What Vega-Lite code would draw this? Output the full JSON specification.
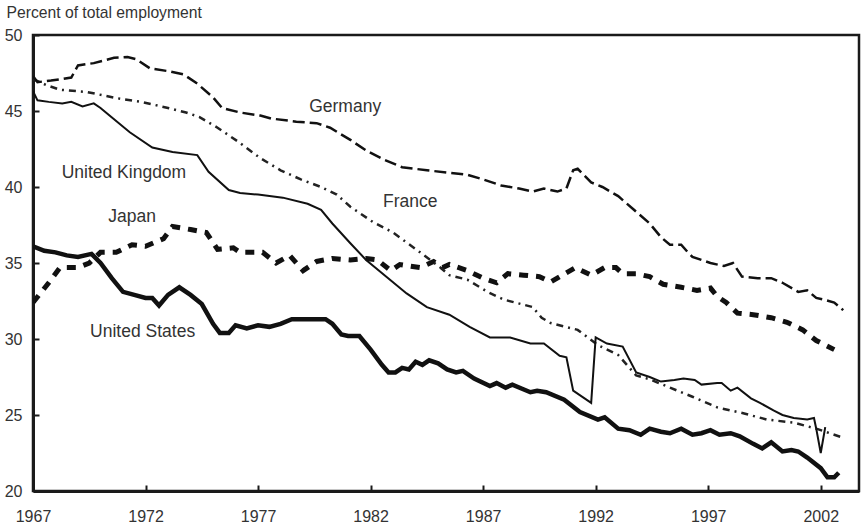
{
  "$schema": "https://vega.github.io/schema/vega-lite/v6.json",
  "autosize": {"type": "none"},
  "width": 826,
  "height": 456,
  "padding": {"left": 33, "top": 35, "right": 3, "bottom": 36},
  "background": "white",
  "config": {
    "view": {"stroke": "#1a1a1a", "strokeWidth": 2.5},
    "font": "Liberation Sans",
    "axis": {"grid": false, "domainColor": "#1a1a1a", "domainWidth": 3, "tickColor": "#1a1a1a", "tickWidth": 2, "labelColor": "#333", "labelFont": "Liberation Sans", "labelFontSize": 16}
  },
  "datasets": {
    "series": [
      {"country": "United States", "year": 1967.0, "value": 36.1},
      {"country": "United States", "year": 1967.5, "value": 35.8},
      {"country": "United States", "year": 1968.0, "value": 35.7},
      {"country": "United States", "year": 1968.5, "value": 35.5},
      {"country": "United States", "year": 1969.0, "value": 35.4},
      {"country": "United States", "year": 1969.6, "value": 35.6},
      {"country": "United States", "year": 1970.0, "value": 35.0},
      {"country": "United States", "year": 1970.5, "value": 34.0},
      {"country": "United States", "year": 1971.0, "value": 33.1},
      {"country": "United States", "year": 1971.5, "value": 32.9},
      {"country": "United States", "year": 1972.0, "value": 32.7},
      {"country": "United States", "year": 1972.3, "value": 32.7},
      {"country": "United States", "year": 1972.6, "value": 32.2},
      {"country": "United States", "year": 1973.0, "value": 32.9},
      {"country": "United States", "year": 1973.5, "value": 33.4},
      {"country": "United States", "year": 1974.0, "value": 32.9},
      {"country": "United States", "year": 1974.5, "value": 32.3},
      {"country": "United States", "year": 1975.0, "value": 31.0},
      {"country": "United States", "year": 1975.3, "value": 30.4},
      {"country": "United States", "year": 1975.7, "value": 30.4},
      {"country": "United States", "year": 1976.0, "value": 30.9},
      {"country": "United States", "year": 1976.5, "value": 30.7},
      {"country": "United States", "year": 1977.0, "value": 30.9},
      {"country": "United States", "year": 1977.5, "value": 30.8},
      {"country": "United States", "year": 1978.0, "value": 31.0},
      {"country": "United States", "year": 1978.5, "value": 31.3},
      {"country": "United States", "year": 1979.0, "value": 31.3},
      {"country": "United States", "year": 1980.0, "value": 31.3},
      {"country": "United States", "year": 1980.3, "value": 31.0},
      {"country": "United States", "year": 1980.7, "value": 30.3},
      {"country": "United States", "year": 1981.0, "value": 30.2},
      {"country": "United States", "year": 1981.5, "value": 30.2},
      {"country": "United States", "year": 1982.0, "value": 29.3},
      {"country": "United States", "year": 1982.5, "value": 28.3},
      {"country": "United States", "year": 1982.8, "value": 27.8},
      {"country": "United States", "year": 1983.1, "value": 27.8},
      {"country": "United States", "year": 1983.4, "value": 28.1},
      {"country": "United States", "year": 1983.7, "value": 28.0},
      {"country": "United States", "year": 1984.0, "value": 28.5},
      {"country": "United States", "year": 1984.3, "value": 28.3},
      {"country": "United States", "year": 1984.6, "value": 28.6},
      {"country": "United States", "year": 1985.0, "value": 28.4},
      {"country": "United States", "year": 1985.4, "value": 28.0},
      {"country": "United States", "year": 1985.8, "value": 27.8},
      {"country": "United States", "year": 1986.1, "value": 27.9},
      {"country": "United States", "year": 1986.6, "value": 27.4},
      {"country": "United States", "year": 1987.3, "value": 26.9},
      {"country": "United States", "year": 1987.6, "value": 27.1},
      {"country": "United States", "year": 1988.0, "value": 26.8},
      {"country": "United States", "year": 1988.3, "value": 27.0},
      {"country": "United States", "year": 1989.1, "value": 26.5},
      {"country": "United States", "year": 1989.4, "value": 26.6},
      {"country": "United States", "year": 1989.8, "value": 26.5},
      {"country": "United States", "year": 1990.6, "value": 26.0},
      {"country": "United States", "year": 1991.3, "value": 25.2},
      {"country": "United States", "year": 1992.1, "value": 24.7},
      {"country": "United States", "year": 1992.4, "value": 24.85},
      {"country": "United States", "year": 1993.0, "value": 24.1},
      {"country": "United States", "year": 1993.5, "value": 24.0},
      {"country": "United States", "year": 1994.0, "value": 23.7},
      {"country": "United States", "year": 1994.4, "value": 24.1},
      {"country": "United States", "year": 1994.9, "value": 23.9},
      {"country": "United States", "year": 1995.3, "value": 23.8},
      {"country": "United States", "year": 1995.8, "value": 24.1},
      {"country": "United States", "year": 1996.3, "value": 23.7},
      {"country": "United States", "year": 1996.7, "value": 23.8},
      {"country": "United States", "year": 1997.1, "value": 24.0},
      {"country": "United States", "year": 1997.5, "value": 23.7},
      {"country": "United States", "year": 1998.0, "value": 23.8},
      {"country": "United States", "year": 1998.4, "value": 23.6},
      {"country": "United States", "year": 1999.0, "value": 23.1},
      {"country": "United States", "year": 1999.4, "value": 22.8},
      {"country": "United States", "year": 1999.8, "value": 23.2},
      {"country": "United States", "year": 2000.3, "value": 22.6},
      {"country": "United States", "year": 2000.7, "value": 22.7},
      {"country": "United States", "year": 2001.0, "value": 22.6},
      {"country": "United States", "year": 2001.4, "value": 22.2},
      {"country": "United States", "year": 2002.0, "value": 21.5},
      {"country": "United States", "year": 2002.3, "value": 20.9},
      {"country": "United States", "year": 2002.6, "value": 20.9},
      {"country": "United States", "year": 2002.8, "value": 21.2},

      {"country": "United Kingdom", "year": 1967.0, "value": 46.3},
      {"country": "United Kingdom", "year": 1967.2, "value": 45.7},
      {"country": "United Kingdom", "year": 1967.7, "value": 45.6},
      {"country": "United Kingdom", "year": 1968.3, "value": 45.5},
      {"country": "United Kingdom", "year": 1968.7, "value": 45.6},
      {"country": "United Kingdom", "year": 1969.2, "value": 45.3},
      {"country": "United Kingdom", "year": 1969.7, "value": 45.5},
      {"country": "United Kingdom", "year": 1970.0, "value": 45.2},
      {"country": "United Kingdom", "year": 1970.4, "value": 44.7},
      {"country": "United Kingdom", "year": 1971.3, "value": 43.6},
      {"country": "United Kingdom", "year": 1972.3, "value": 42.6},
      {"country": "United Kingdom", "year": 1973.2, "value": 42.3},
      {"country": "United Kingdom", "year": 1974.3, "value": 42.1},
      {"country": "United Kingdom", "year": 1974.8, "value": 41.0},
      {"country": "United Kingdom", "year": 1975.7, "value": 39.8},
      {"country": "United Kingdom", "year": 1976.2, "value": 39.6},
      {"country": "United Kingdom", "year": 1977.0, "value": 39.5},
      {"country": "United Kingdom", "year": 1978.1, "value": 39.3},
      {"country": "United Kingdom", "year": 1979.2, "value": 38.9},
      {"country": "United Kingdom", "year": 1979.8, "value": 38.5},
      {"country": "United Kingdom", "year": 1980.3, "value": 37.6},
      {"country": "United Kingdom", "year": 1981.1, "value": 36.3},
      {"country": "United Kingdom", "year": 1981.8, "value": 35.2},
      {"country": "United Kingdom", "year": 1982.7, "value": 34.1},
      {"country": "United Kingdom", "year": 1983.6, "value": 33.0},
      {"country": "United Kingdom", "year": 1984.5, "value": 32.1},
      {"country": "United Kingdom", "year": 1985.5, "value": 31.6},
      {"country": "United Kingdom", "year": 1986.4, "value": 30.8},
      {"country": "United Kingdom", "year": 1987.3, "value": 30.1},
      {"country": "United Kingdom", "year": 1988.2, "value": 30.1},
      {"country": "United Kingdom", "year": 1989.1, "value": 29.7},
      {"country": "United Kingdom", "year": 1989.7, "value": 29.7},
      {"country": "United Kingdom", "year": 1990.4, "value": 28.9},
      {"country": "United Kingdom", "year": 1990.7, "value": 28.8},
      {"country": "United Kingdom", "year": 1991.0, "value": 26.6},
      {"country": "United Kingdom", "year": 1991.8, "value": 25.8},
      {"country": "United Kingdom", "year": 1992.0, "value": 30.1},
      {"country": "United Kingdom", "year": 1992.5, "value": 29.7},
      {"country": "United Kingdom", "year": 1993.2, "value": 29.5},
      {"country": "United Kingdom", "year": 1993.8, "value": 27.8},
      {"country": "United Kingdom", "year": 1994.4, "value": 27.5},
      {"country": "United Kingdom", "year": 1994.9, "value": 27.2},
      {"country": "United Kingdom", "year": 1995.5, "value": 27.3},
      {"country": "United Kingdom", "year": 1995.9, "value": 27.4},
      {"country": "United Kingdom", "year": 1996.4, "value": 27.3},
      {"country": "United Kingdom", "year": 1996.7, "value": 27.0},
      {"country": "United Kingdom", "year": 1997.4, "value": 27.1},
      {"country": "United Kingdom", "year": 1997.6, "value": 27.1},
      {"country": "United Kingdom", "year": 1998.0, "value": 26.6},
      {"country": "United Kingdom", "year": 1998.3, "value": 26.8},
      {"country": "United Kingdom", "year": 1998.9, "value": 26.1},
      {"country": "United Kingdom", "year": 1999.3, "value": 25.8},
      {"country": "United Kingdom", "year": 1999.9, "value": 25.3},
      {"country": "United Kingdom", "year": 2000.3, "value": 25.0},
      {"country": "United Kingdom", "year": 2000.8, "value": 24.8},
      {"country": "United Kingdom", "year": 2001.4, "value": 24.7},
      {"country": "United Kingdom", "year": 2001.7, "value": 24.8},
      {"country": "United Kingdom", "year": 2001.8, "value": 24.1},
      {"country": "United Kingdom", "year": 2002.0, "value": 22.5},
      {"country": "United Kingdom", "year": 2002.2, "value": 24.2},

      {"country": "Germany", "year": 1967.0, "value": 47.3},
      {"country": "Germany", "year": 1967.2, "value": 46.9},
      {"country": "Germany", "year": 1967.8, "value": 47.0},
      {"country": "Germany", "year": 1968.3, "value": 47.1},
      {"country": "Germany", "year": 1968.7, "value": 47.2},
      {"country": "Germany", "year": 1969.0, "value": 48.0},
      {"country": "Germany", "year": 1969.7, "value": 48.15},
      {"country": "Germany", "year": 1970.6, "value": 48.5},
      {"country": "Germany", "year": 1971.2, "value": 48.55},
      {"country": "Germany", "year": 1971.6, "value": 48.4},
      {"country": "Germany", "year": 1972.2, "value": 47.8},
      {"country": "Germany", "year": 1973.1, "value": 47.6},
      {"country": "Germany", "year": 1973.7, "value": 47.4},
      {"country": "Germany", "year": 1974.3, "value": 46.8},
      {"country": "Germany", "year": 1975.0, "value": 45.9},
      {"country": "Germany", "year": 1975.4, "value": 45.2},
      {"country": "Germany", "year": 1976.2, "value": 44.9},
      {"country": "Germany", "year": 1977.1, "value": 44.7},
      {"country": "Germany", "year": 1977.6, "value": 44.5},
      {"country": "Germany", "year": 1978.7, "value": 44.3},
      {"country": "Germany", "year": 1979.6, "value": 44.2},
      {"country": "Germany", "year": 1980.2, "value": 43.9},
      {"country": "Germany", "year": 1981.1, "value": 43.1},
      {"country": "Germany", "year": 1981.8, "value": 42.4},
      {"country": "Germany", "year": 1982.6, "value": 41.8},
      {"country": "Germany", "year": 1983.4, "value": 41.3},
      {"country": "Germany", "year": 1984.5, "value": 41.1},
      {"country": "Germany", "year": 1985.4, "value": 40.95},
      {"country": "Germany", "year": 1986.3, "value": 40.8},
      {"country": "Germany", "year": 1987.0, "value": 40.5},
      {"country": "Germany", "year": 1987.8, "value": 40.1},
      {"country": "Germany", "year": 1988.6, "value": 39.9},
      {"country": "Germany", "year": 1989.2, "value": 39.7},
      {"country": "Germany", "year": 1989.7, "value": 39.9},
      {"country": "Germany", "year": 1990.3, "value": 39.7},
      {"country": "Germany", "year": 1990.7, "value": 39.9},
      {"country": "Germany", "year": 1991.0, "value": 41.1},
      {"country": "Germany", "year": 1991.2, "value": 41.2},
      {"country": "Germany", "year": 1991.8, "value": 40.3},
      {"country": "Germany", "year": 1992.3, "value": 40.0},
      {"country": "Germany", "year": 1993.0, "value": 39.4},
      {"country": "Germany", "year": 1993.7, "value": 38.5},
      {"country": "Germany", "year": 1994.4, "value": 37.6},
      {"country": "Germany", "year": 1994.9, "value": 36.7},
      {"country": "Germany", "year": 1995.3, "value": 36.2},
      {"country": "Germany", "year": 1995.8, "value": 36.2},
      {"country": "Germany", "year": 1996.1, "value": 35.7},
      {"country": "Germany", "year": 1996.3, "value": 35.4},
      {"country": "Germany", "year": 1997.1, "value": 35.0},
      {"country": "Germany", "year": 1997.7, "value": 34.8},
      {"country": "Germany", "year": 1998.1, "value": 35.0},
      {"country": "Germany", "year": 1998.5, "value": 34.1},
      {"country": "Germany", "year": 1999.2, "value": 34.0},
      {"country": "Germany", "year": 1999.8, "value": 34.0},
      {"country": "Germany", "year": 2000.3, "value": 33.7},
      {"country": "Germany", "year": 2001.0, "value": 33.1},
      {"country": "Germany", "year": 2001.4, "value": 33.2},
      {"country": "Germany", "year": 2001.8, "value": 32.7},
      {"country": "Germany", "year": 2002.1, "value": 32.6},
      {"country": "Germany", "year": 2002.6, "value": 32.4},
      {"country": "Germany", "year": 2003.0, "value": 31.9},

      {"country": "France", "year": 1967.0, "value": 47.1},
      {"country": "France", "year": 1967.6, "value": 46.7},
      {"country": "France", "year": 1968.2, "value": 46.4},
      {"country": "France", "year": 1969.4, "value": 46.25},
      {"country": "France", "year": 1970.7, "value": 45.85},
      {"country": "France", "year": 1971.8, "value": 45.6},
      {"country": "France", "year": 1973.0, "value": 45.2},
      {"country": "France", "year": 1973.8, "value": 44.9},
      {"country": "France", "year": 1974.4, "value": 44.6},
      {"country": "France", "year": 1975.2, "value": 43.9},
      {"country": "France", "year": 1976.1, "value": 43.0},
      {"country": "France", "year": 1977.1, "value": 41.9},
      {"country": "France", "year": 1978.0, "value": 41.1},
      {"country": "France", "year": 1978.9, "value": 40.5},
      {"country": "France", "year": 1979.8, "value": 40.0},
      {"country": "France", "year": 1980.5, "value": 39.5},
      {"country": "France", "year": 1981.1, "value": 38.7},
      {"country": "France", "year": 1982.1, "value": 37.7},
      {"country": "France", "year": 1983.0, "value": 37.0},
      {"country": "France", "year": 1984.2, "value": 35.7},
      {"country": "France", "year": 1985.1, "value": 34.7},
      {"country": "France", "year": 1985.5, "value": 34.2},
      {"country": "France", "year": 1986.3, "value": 33.9},
      {"country": "France", "year": 1987.2, "value": 33.1},
      {"country": "France", "year": 1987.9, "value": 32.6},
      {"country": "France", "year": 1989.2, "value": 32.1},
      {"country": "France", "year": 1989.6, "value": 31.4},
      {"country": "France", "year": 1990.0, "value": 31.05},
      {"country": "France", "year": 1991.2, "value": 30.6},
      {"country": "France", "year": 1992.1, "value": 29.6},
      {"country": "France", "year": 1993.0, "value": 28.95},
      {"country": "France", "year": 1993.8, "value": 27.6},
      {"country": "France", "year": 1994.4, "value": 27.35},
      {"country": "France", "year": 1995.3, "value": 26.8},
      {"country": "France", "year": 1996.3, "value": 26.2},
      {"country": "France", "year": 1997.4, "value": 25.5},
      {"country": "France", "year": 1998.6, "value": 25.1},
      {"country": "France", "year": 1999.6, "value": 24.7},
      {"country": "France", "year": 2000.8, "value": 24.5},
      {"country": "France", "year": 2001.8, "value": 24.1},
      {"country": "France", "year": 2003.0, "value": 23.5},

      {"country": "Japan", "year": 1967.0, "value": 32.4},
      {"country": "Japan", "year": 1967.7, "value": 33.7},
      {"country": "Japan", "year": 1968.2, "value": 34.7},
      {"country": "Japan", "year": 1969.0, "value": 34.7},
      {"country": "Japan", "year": 1969.5, "value": 35.0},
      {"country": "Japan", "year": 1970.0, "value": 35.7},
      {"country": "Japan", "year": 1970.7, "value": 35.7},
      {"country": "Japan", "year": 1971.4, "value": 36.2},
      {"country": "Japan", "year": 1972.0, "value": 36.1},
      {"country": "Japan", "year": 1972.8, "value": 36.6},
      {"country": "Japan", "year": 1973.2, "value": 37.4},
      {"country": "Japan", "year": 1974.0, "value": 37.2},
      {"country": "Japan", "year": 1974.7, "value": 37.0},
      {"country": "Japan", "year": 1975.2, "value": 35.9},
      {"country": "Japan", "year": 1975.9, "value": 36.0},
      {"country": "Japan", "year": 1976.2, "value": 35.7},
      {"country": "Japan", "year": 1977.2, "value": 35.7},
      {"country": "Japan", "year": 1977.8, "value": 35.0},
      {"country": "Japan", "year": 1978.4, "value": 35.5},
      {"country": "Japan", "year": 1979.0, "value": 34.5},
      {"country": "Japan", "year": 1979.6, "value": 35.1},
      {"country": "Japan", "year": 1980.3, "value": 35.3},
      {"country": "Japan", "year": 1981.1, "value": 35.2},
      {"country": "Japan", "year": 1981.8, "value": 35.3},
      {"country": "Japan", "year": 1982.3, "value": 35.2},
      {"country": "Japan", "year": 1982.9, "value": 34.5},
      {"country": "Japan", "year": 1983.3, "value": 34.9},
      {"country": "Japan", "year": 1984.2, "value": 34.7},
      {"country": "Japan", "year": 1984.8, "value": 35.1},
      {"country": "Japan", "year": 1985.2, "value": 34.7},
      {"country": "Japan", "year": 1985.5, "value": 34.9},
      {"country": "Japan", "year": 1986.3, "value": 34.5},
      {"country": "Japan", "year": 1987.0, "value": 34.0},
      {"country": "Japan", "year": 1987.6, "value": 33.7},
      {"country": "Japan", "year": 1988.1, "value": 34.3},
      {"country": "Japan", "year": 1988.8, "value": 34.2},
      {"country": "Japan", "year": 1989.5, "value": 34.1},
      {"country": "Japan", "year": 1990.0, "value": 33.75},
      {"country": "Japan", "year": 1990.4, "value": 34.1},
      {"country": "Japan", "year": 1991.1, "value": 34.7},
      {"country": "Japan", "year": 1991.8, "value": 34.2},
      {"country": "Japan", "year": 1992.4, "value": 34.7},
      {"country": "Japan", "year": 1992.9, "value": 34.7},
      {"country": "Japan", "year": 1993.2, "value": 34.3},
      {"country": "Japan", "year": 1993.8, "value": 34.3},
      {"country": "Japan", "year": 1994.4, "value": 34.1},
      {"country": "Japan", "year": 1995.0, "value": 33.6},
      {"country": "Japan", "year": 1995.8, "value": 33.4},
      {"country": "Japan", "year": 1996.5, "value": 33.2},
      {"country": "Japan", "year": 1997.1, "value": 33.35},
      {"country": "Japan", "year": 1997.4, "value": 32.8},
      {"country": "Japan", "year": 1997.8, "value": 32.4},
      {"country": "Japan", "year": 1998.3, "value": 31.7},
      {"country": "Japan", "year": 1999.0, "value": 31.6},
      {"country": "Japan", "year": 1999.8, "value": 31.4},
      {"country": "Japan", "year": 2000.5, "value": 31.1},
      {"country": "Japan", "year": 2001.2, "value": 30.6},
      {"country": "Japan", "year": 2001.8, "value": 29.9},
      {"country": "Japan", "year": 2002.6, "value": 29.3}
    ],
    "labels": [
      {"label": "Germany", "year": 1980.87, "value": 44.93},
      {"label": "France", "year": 1983.76, "value": 38.7},
      {"label": "United Kingdom", "year": 1971.04, "value": 40.57},
      {"label": "Japan", "year": 1971.4, "value": 37.72},
      {"label": "United States", "year": 1971.87, "value": 30.15}
    ]
  },
  "encoding": {
    "x": {
      "field": "year", "type": "quantitative",
      "scale": {"domain": [1967, 2003.7], "nice": false, "zero": false},
      "axis": {"title": null, "values": [1967, 1972, 1977, 1982, 1987, 1992, 1997, 2002], "format": "d", "labelFlush": false, "tickSize": -6, "labelPadding": 23}
    },
    "y": {
      "field": "value", "type": "quantitative",
      "scale": {"domain": [20, 50], "nice": false, "zero": false},
      "axis": {"title": "Percent of total employment", "values": [20, 25, 30, 35, 40, 45, 50], "tickSize": -6, "labelPadding": 17,
        "titleAngle": 0, "titleAnchor": "start", "titleAlign": "left", "titleBaseline": "middle", "titleX": -27, "titleY": -23,
        "titleFont": "Liberation Sans", "titleFontSize": 15.7, "titleFontWeight": "normal", "titleColor": "#333"}
    }
  },
  "layer": [
    {
      "data": {"name": "series"},
      "transform": [{"filter": "datum.country === 'Japan'"}],
      "mark": {"type": "line", "color": "#111", "strokeWidth": 5, "strokeDash": [9, 8], "clip": true}
    },
    {
      "data": {"name": "series"},
      "transform": [{"filter": "datum.country === 'France'"}],
      "mark": {"type": "line", "color": "#222", "strokeWidth": 2.5, "strokeDash": [7, 5, 2, 5], "clip": true}
    },
    {
      "data": {"name": "series"},
      "transform": [{"filter": "datum.country === 'Germany'"}],
      "mark": {"type": "line", "color": "#111", "strokeWidth": 2.5, "strokeDash": [12, 5], "clip": true}
    },
    {
      "data": {"name": "series"},
      "transform": [{"filter": "datum.country === 'United Kingdom'"}],
      "mark": {"type": "line", "color": "#111", "strokeWidth": 2, "clip": true}
    },
    {
      "data": {"name": "series"},
      "transform": [{"filter": "datum.country === 'United States'"}],
      "mark": {"type": "line", "color": "#111", "strokeWidth": 4.5, "clip": true}
    },
    {
      "data": {"name": "labels"},
      "mark": {"type": "text", "font": "Liberation Sans", "fontSize": 17.5, "color": "#333", "align": "center", "baseline": "alphabetic"},
      "encoding": {
        "text": {"field": "label"}
      }
    }
  ]
}
